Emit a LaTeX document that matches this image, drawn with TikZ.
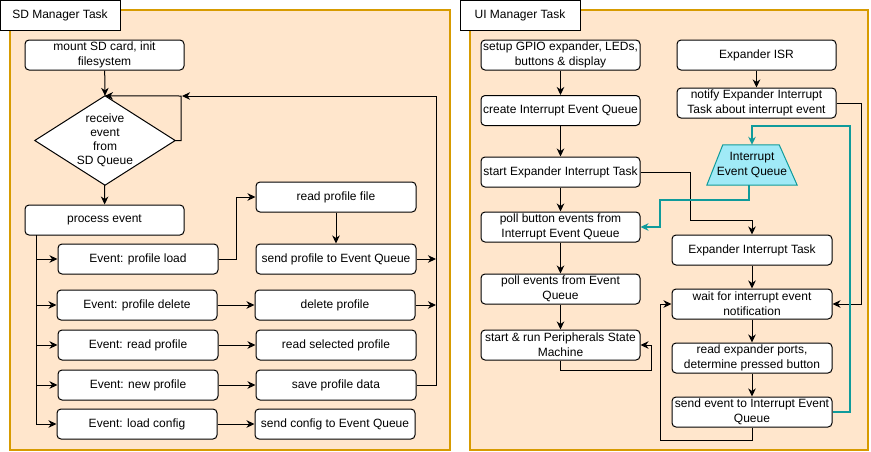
\documentclass[tikz,border=0pt]{standalone}
\usepackage{fontspec}
\setmainfont{Liberation Sans}
\usetikzlibrary{arrows.meta}
\definecolor{cfill}{HTML}{FFE6CC}
\definecolor{cdraw}{HTML}{D79B00}
\definecolor{qfill}{RGB}{160,234,247}
\definecolor{qteal}{RGB}{16,155,155}
\begin{document}
\begin{tikzpicture}[x=1pt,y=-1pt,
  font=\fontsize{12}{14}\selectfont,
  box/.style={draw, rounded corners=4pt, fill=white, line width=1pt, minimum width=160pt, minimum height=30pt, inner sep=1pt, align=center, font=\fontsize{12}{15}\selectfont},
  arr/.style={-{Stealth[length=8pt,width=7.5pt,inset=2.5pt]}, line width=1pt},
  tarr/.style={arr, draw=qteal, line width=1.6pt},
  ln/.style={line width=1pt},
  titlebox/.style={draw, fill=white, line width=1pt, minimum width=120pt, minimum height=30pt, inner sep=0pt},
  panel/.style={draw=cdraw, fill=cfill, line width=1.2pt}
]
\useasboundingbox (0,0) rectangle (871,451);
% panels
\path[panel] (10,10) rectangle (450,450);
\node[titlebox] (tl) at (60,15) {SD Manager Task};
\path[panel] (470,10) rectangle (868,450);
\node[titlebox] (tr) at (520,15) {UI Manager Task};

% ---------- SD Manager ----------
\node[box, minimum width=159pt] (mount) at (104.5,55) {mount SD card, init\\filesystem};
\node[minimum width=140pt, minimum height=89pt, inner sep=0pt] (dia) at (105,140.5) {};
\draw[ln, fill=white] (dia.north) -- (dia.east) -- (dia.south) -- (dia.west) -- cycle;
\node[align=center] at (dia.center) {receive\\event\\from\\SD Queue};
\node[box, minimum width=159pt] (proc) at (104.5,220) {process event};

\node[box] (e1) at (138,259) {Event: profile load};
\node[box] (e2) at (137,305) {Event: profile delete};
\node[box] (e3) at (138,345) {Event: read profile};
\node[box] (e4) at (138,385) {Event: new profile};
\node[box] (e5) at (137,424) {Event: load config};

\node[box] (rpf) at (336,197) {read profile file};
\node[box] (spq) at (336,259) {send profile to Event Queue};
\node[box] (dp) at (335,305) {delete profile};
\node[box] (rsp) at (336,345) {read selected profile};
\node[box] (spd) at (336,385) {save profile data};
\node[box] (scq) at (335,424) {send config to Event Queue};

\coordinate (trunk) at (36,235);
\coordinate (loopr) at (436,96);
\coordinate (loopl) at (182,96);

\draw[arr] (mount) -- (dia.north);
\draw[arr] (dia.east) -- (181,140.5) -- (181,96) -- (dia.north);
\draw[arr] (dia) -- (proc);
\draw[arr] (trunk) |- (e1.west);
\draw[arr] (trunk) |- (e2.west);
\draw[arr] (trunk) |- (e3.west);
\draw[arr] (trunk) |- (e4.west);
\draw[arr] (trunk) |- (e5.west);
\draw[arr] (e1.east) -- (236,259) |- (rpf.west);
\draw[arr] (rpf) -- (spq);
\draw[arr] (e2) -- (dp);
\draw[arr] (e3) -- (rsp);
\draw[arr] (e4) -- (spd);
\draw[arr] (e5) -- (scq);
\draw[arr] (spq.east) -- (436,259);
\draw[arr] (dp.east) -- (436,305);
\draw[arr] (spd.east) -- (436,385) -- (loopr) -- (loopl);

% ---------- UI Manager ----------
\node[box, minimum width=159pt] (setup) at (560.5,55) {setup GPIO expander, LEDs,\\buttons \& display};
\node[box, minimum width=159pt] (create) at (560.5,110.5) {create Interrupt Event Queue};
\node[box, minimum width=159pt] (start) at (560.5,172) {start Expander Interrupt Task};
\node[box, minimum width=159pt] (pollb) at (560.5,227) {poll button events from\\Interrupt Event Queue};
\node[box, minimum width=159pt] (polle) at (560.5,289) {poll events from Event\\Queue};
\node[box, minimum width=159pt] (run) at (560.5,345) {start \& run Peripherals State\\Machine};

\node[box, minimum width=159pt] (isr) at (756.5,55) {Expander ISR};
\node[box, minimum width=159pt] (notify) at (756.5,103) {notify Expander Interrupt\\Task about interrupt event};

\node[minimum width=90pt, minimum height=40pt, inner sep=0pt] (q) at (752,165) {};
\draw[draw=qteal, fill=qfill, line width=1pt] (q.south west) -- (q.south east) -- ([xshift=-18pt]q.north east) -- ([xshift=16pt]q.north west) -- cycle;
\node[align=center, font=\fontsize{12}{15}\selectfont] at (q.center) {Interrupt\\Event Queue};

\node[box] (eit) at (752,250) {Expander Interrupt Task};
\node[box] (wait) at (752,304) {wait for interrupt event\\notification};
\node[box] (readp) at (752,358) {read expander ports,\\determine pressed button};
\node[box] (sendev) at (752,412) {send event to Interrupt Event\\Queue};

\draw[arr] (setup) -- (create);
\draw[arr] (create) -- (start);
\draw[arr] (start) -- (pollb);
\draw[arr] (pollb) -- (polle);
\draw[arr] (polle) -- (run);
\draw[arr] (run.south) -- (560.5,370) -- (651,370) -- (651,345) -- (run.east);

\draw[arr] (isr) -- (notify);
\draw[arr] (notify.east) -- (861,103) -- (861,304) -- (wait.east);
\draw[arr] (start.east) -- (690,172) -- (690,220) -- (752,220) -- (eit.north);
\draw[arr] (eit) -- (wait);
\draw[arr] (wait) -- (readp);
\draw[arr] (readp) -- (sendev);
\draw[arr] (sendev.south) -- (752,440) -- (660,440) -- (660,304) -- (wait.west);

\draw[tarr] (sendev.east) -- (850,412) -- (850,126) -- (752,126) -- (q.north);
\draw[tarr] ([xshift=-3pt]q.south) -- (749,200) -- (660,200) -- (660,227) -- (pollb.east);
\end{tikzpicture}
\end{document}
